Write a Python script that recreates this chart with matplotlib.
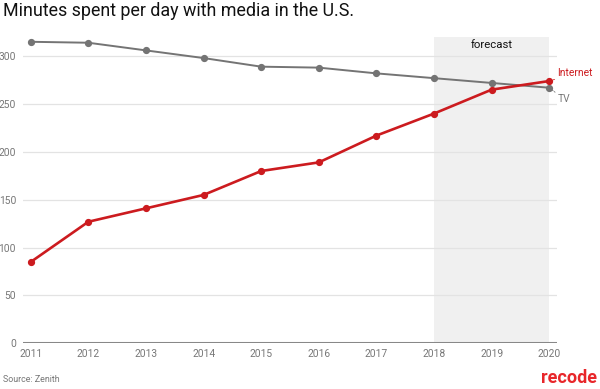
import matplotlib
matplotlib.use("Agg")
import matplotlib.pyplot as plt

years = [2011, 2012, 2013, 2014, 2015, 2016, 2017, 2018, 2019, 2020]
tv = [315, 314, 306, 298, 289, 288, 282, 277, 272, 267]
internet = [85, 127, 141, 155, 180, 189, 217, 240, 265, 274]
yticks = [0, 50, 100, 150, 200, 250, 300]
forecast_start, forecast_end = 2018, 2020

plt.rcParams['font.family'] = ['Roboto', 'DejaVu Sans']

fig = plt.figure(figsize=(6, 3.89), dpi=100)
ax = fig.add_axes([23/600, (389-343.3)/389, (557-23)/600, (343.3-37)/389])

ax.axvspan(forecast_start, forecast_end, color='#f0f0f0', zorder=0, lw=0)
ax.text((forecast_start+forecast_end)/2, 317, 'forecast', ha='center', va='top',
        fontsize=8.2, color='#111111')

for y in yticks[1:]:
    ax.axhline(y, color='#e3e3e3', lw=0.9, zorder=1)
ax.axhline(0, color='#888888', lw=2.2, zorder=2)

ax.plot(years, tv, color='#747474', lw=1.4, marker='o', ms=4.2, zorder=3)
ax.plot(years, internet, color='#cc1b1f', lw=1.9, marker='o', ms=4.2, zorder=4)

ax.set_xlim(2011 - 0.135, 2020 + 0.135)
ax.set_ylim(0, 320)
for s in ax.spines.values():
    s.set_visible(False)
ax.set_yticks(yticks)
ax.set_yticklabels([str(v) for v in yticks])
ax.set_xticks(years)
ax.set_xticklabels([str(y) for y in years])
ax.tick_params(axis='both', length=0, labelsize=7.4, colors='#777777')
ax.tick_params(axis='y', pad=5)
ax.tick_params(axis='x', pad=4)

# end labels with leader lines
ax.annotate('Internet', xy=(years[-1], internet[-1]), xytext=(years[-1] + 0.14, internet[-1] + 8),
            fontsize=7.4, color='#cc1b1f', va='center', ha='left',
            arrowprops=dict(arrowstyle='-', color='#cc1b1f', lw=0.6, ls=(0, (1.5, 1.5)),
                            shrinkA=0, shrinkB=2))
ax.annotate('TV', xy=(years[-1], tv[-1]), xytext=(years[-1] + 0.15, tv[-1] - 12),
            fontsize=7.4, color='#777777', va='center', ha='left',
            arrowprops=dict(arrowstyle='-', color='#777777', lw=0.6, ls=(0, (1.5, 1.5)),
                            shrinkA=0, shrinkB=2))

fig.text(3/600, 1 - 11/389, 'Minutes spent per day with media in the U.S.',
         fontsize=12.9, color='#111111', va='center', ha='left')
fig.text(3/600, 1 - 379.5/389, 'Source: Zenith', fontsize=6.4, color='#777777',
         va='center', ha='left')
fig.text(597/600, 1 - 378/389, 'recode', fontsize=13, fontweight='bold', color='#e8262a',
         va='center', ha='right')

fig.savefig('out.png', dpi=100)
